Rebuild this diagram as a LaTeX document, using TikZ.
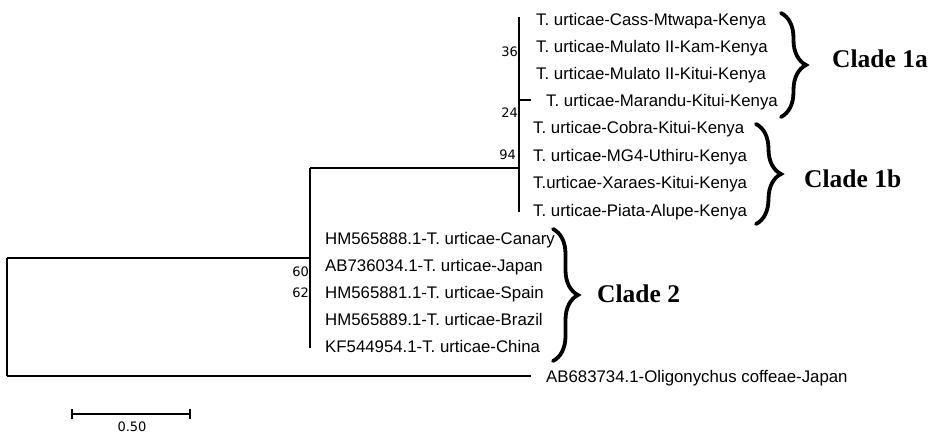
\documentclass[tikz,border=0pt]{standalone}
\usepackage{fontspec}
\setmainfont{Liberation Sans}
\newfontfamily\numfont{DejaVu Sans}
\newfontfamily\cladefont{Liberation Serif}
\usetikzlibrary{decorations.pathreplacing}
\begin{document}
\begin{tikzpicture}[x=1pt,y=-1pt,
  leaf/.style={anchor=base west, inner sep=0pt, font=\fontsize{16.8}{18}\selectfont},
  boot/.style={anchor=base east, inner sep=0pt, font=\numfont\fontsize{13}{14}\selectfont},
  branch/.style={line width=1.2pt, black},
  cladebrace/.style={decorate, decoration={brace, amplitude=25pt, aspect=0.5}, line width=3.8pt, line cap=round},
  cladelabel/.style={anchor=west, inner sep=0pt, font=\cladefont\bfseries\fontsize{25.5}{28}\selectfont},
  scalelabel/.style={anchor=center, inner sep=0pt, font=\numfont\fontsize{13}{14}\selectfont}]
\useasboundingbox (0,0) rectangle (929,433);

% internal nodes / branch points
\coordinate (rootT) at (7,258);
\coordinate (rootB) at (7,376);
\coordinate (ogEnd) at (531,376);
\coordinate (n2T) at (310,168);
\coordinate (n2R) at (310,258);
\coordinate (n2B) at (310,348);
\coordinate (n1L) at (519,168);
\coordinate (n1T) at (519,17);
\coordinate (n1B) at (519,212);
\coordinate (marA) at (519,100);
\coordinate (marB) at (531,100);

% branches
\draw[branch] (rootT) -- (rootB);
\draw[branch] (rootT) -- (n2R);
\draw[branch] (rootB) -- (ogEnd);
\draw[branch] (n2T) -- (n2B);
\draw[branch] (n2T) -- (n1L);
\draw[branch] (n1T) -- (n1B);
\draw[branch] (marA) -- (marB);

% clade 1a leaves
\node[leaf] (l1) at (536,26) {T. urticae-Cass-Mtwapa-Kenya};
\node[leaf] (l2) at (536,53) {T. urticae-Mulato II-Kam-Kenya};
\node[leaf] (l3) at (536,80) {T. urticae-Mulato II-Kitui-Kenya};
\node[leaf] (l4) at (546,107) {T. urticae-Marandu-Kitui-Kenya};
% clade 1b leaves
\node[leaf] (l5) at (533,134) {T. urticae-Cobra-Kitui-Kenya};
\node[leaf] (l6) at (533,161) {T. urticae-MG4-Uthiru-Kenya};
\node[leaf] (l7) at (533,189) {T.urticae-Xaraes-Kitui-Kenya};
\node[leaf] (l8) at (533,216) {T. urticae-Piata-Alupe-Kenya};
% clade 2 leaves
\node[leaf] (l9) at (325,244) {HM565888.1-T. urticae-Canary};
\node[leaf] (l10) at (325,271) {AB736034.1-T. urticae-Japan};
\node[leaf] (l11) at (325,298) {HM565881.1-T. urticae-Spain};
\node[leaf] (l12) at (325,325) {HM565889.1-T. urticae-Brazil};
\node[leaf] (l13) at (325,352) {KF544954.1-T. urticae-China};
% outgroup
\node[leaf] (og) at (546,382) {AB683734.1-Oligonychus coffeae-Japan};

% bootstrap values
\node[boot] (b36) at (518,57) {36};
\node[boot] (b24) at (518,118) {24};
\node[boot] (b94) at (516,160) {94};
\node[boot] (b60) at (309,276) {60};
\node[boot] (b62) at (309,297) {62};

% braces
\coordinate (b1aT) at (781,13);
\coordinate (b1aB) at (781,117);
\coordinate (b1bT) at (756,124);
\coordinate (b1bB) at (756,224);
\coordinate (b2T) at (553,229);
\coordinate (b2B) at (553,361);
\draw[cladebrace] (b1aT) -- (b1aB);
\draw[cladebrace] (b1bT) -- (b1bB);
\draw[cladebrace] (b2T) -- (b2B);

\node[cladelabel] (c1a) at (832,59) {Clade 1a};
\node[cladelabel] (c1b) at (804,179) {Clade 1b};
\node[cladelabel] (c2) at (597,294) {Clade 2};

% scale bar
\coordinate (sbL) at (72,414);
\coordinate (sbR) at (190,414);
\draw[line width=1.1pt] (sbL) -- (sbR);
\draw[line width=1.1pt] ([yshift=-5pt]sbL) -- ([yshift=5pt]sbL);
\draw[line width=1.1pt] ([yshift=-5pt]sbR) -- ([yshift=5pt]sbR);
\node[scalelabel] (sc) at (132,427) {0.50};
\end{tikzpicture}
\end{document}
